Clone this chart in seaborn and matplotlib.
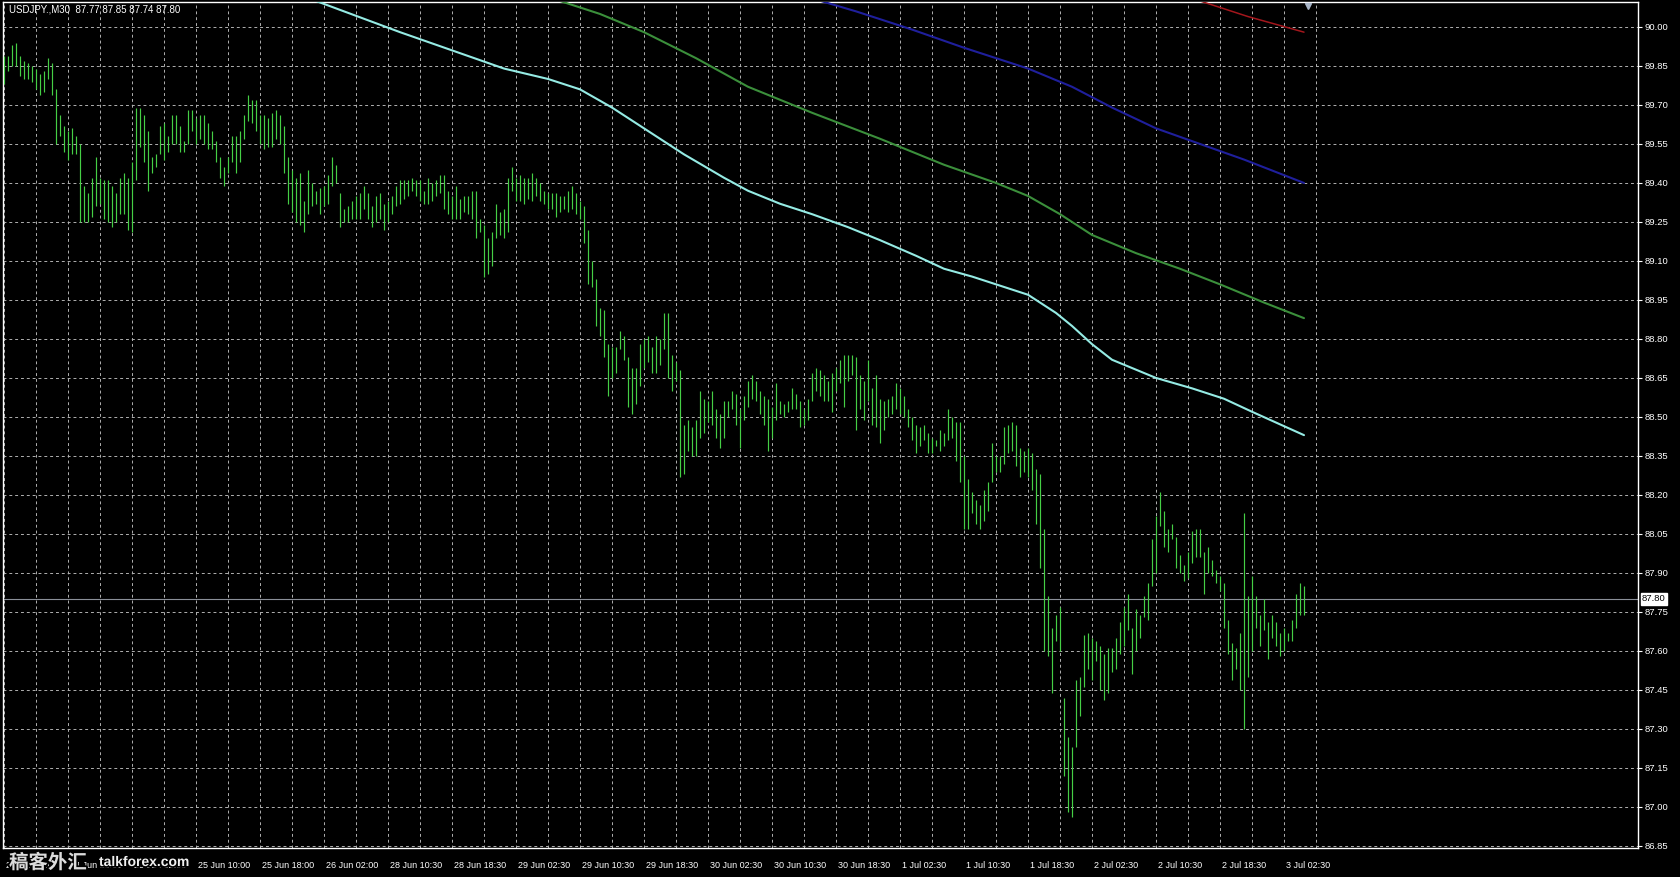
import matplotlib
matplotlib.use("Agg")
import numpy as np
import pandas as pd
import matplotlib.pyplot as plt
import matplotlib.patheffects as pe
import matplotlib.transforms as mtransforms
import seaborn as sns

# USDJPY M30 bars (bar 0 = 24 Jun 10:00)
highs = [
    89.89, 89.89, 89.93, 89.94, 89.89, 89.87, 89.86, 89.85, 89.84, 89.82,
    89.83, 89.88, 89.86, 89.76, 89.66, 89.62, 89.60, 89.61, 89.58, 89.55,
    89.39, 89.36, 89.42, 89.50, 89.42, 89.41, 89.41, 89.39, 89.36, 89.42,
    89.44, 89.42, 89.48, 89.69, 89.69, 89.66, 89.60, 89.50, 89.51, 89.62,
    89.63, 89.58, 89.66, 89.66, 89.62, 89.56, 89.68, 89.68, 89.65, 89.66,
    89.66, 89.63, 89.60, 89.56, 89.50, 89.46, 89.50, 89.58, 89.58, 89.60,
    89.66, 89.74, 89.72, 89.72, 89.66, 89.66, 89.65, 89.67, 89.68, 89.66,
    89.62, 89.50, 89.45, 89.42, 89.44, 89.33, 89.45, 89.40, 89.37, 89.38,
    89.39, 89.43, 89.50, 89.47, 89.36, 89.30, 89.31, 89.33, 89.35, 89.36,
    89.39, 89.36, 89.31, 89.35, 89.36, 89.32, 89.33, 89.35, 89.39, 89.41,
    89.41, 89.41, 89.42, 89.41, 89.41, 89.37, 89.42, 89.40, 89.41, 89.43,
    89.43, 89.37, 89.35, 89.39, 89.34, 89.35, 89.35, 89.37, 89.37, 89.26,
    89.24, 89.19, 89.21, 89.32, 89.29, 89.30, 89.42, 89.46, 89.42, 89.43,
    89.42, 89.42, 89.44, 89.42, 89.40, 89.37, 89.36, 89.36, 89.36, 89.35,
    89.35, 89.37, 89.39, 89.36, 89.33, 89.31, 89.22, 89.10, 89.03, 88.92,
    88.91, 88.78, 88.77, 88.77, 88.83, 88.81, 88.73, 88.69, 88.69, 88.78,
    88.80, 88.81, 88.77, 88.81, 88.80, 88.90, 88.90, 88.74, 88.71, 88.68,
    88.47, 88.49, 88.46, 88.49, 88.60, 88.57, 88.56, 88.60, 88.53, 88.51,
    88.56, 88.56, 88.60, 88.59, 88.53, 88.58, 88.64, 88.66, 88.64, 88.60,
    88.58, 88.57, 88.54, 88.63, 88.56, 88.55, 88.56, 88.61, 88.59, 88.56,
    88.53, 88.57, 88.67, 88.69, 88.68, 88.66, 88.64, 88.67, 88.69, 88.72,
    88.74, 88.74, 88.74, 88.73, 88.66, 88.64, 88.72, 88.61, 88.66, 88.57,
    88.56, 88.57, 88.58, 88.63, 88.61, 88.58, 88.53, 88.50, 88.47, 88.46,
    88.47, 88.44, 88.42, 88.41, 88.45, 88.44, 88.53, 88.50, 88.48, 88.48,
    88.35, 88.26, 88.21, 88.18, 88.16, 88.22, 88.25, 88.40, 88.35, 88.35,
    88.46, 88.47, 88.48, 88.47, 88.38, 88.37, 88.38, 88.36, 88.30, 88.28,
    88.07, 87.81, 87.69, 87.74, 87.77, 87.42, 87.27, 87.23, 87.49, 87.50,
    87.66, 87.67, 87.65, 87.64, 87.62, 87.59, 87.61, 87.61, 87.65, 87.71,
    87.77, 87.82, 87.69, 87.76, 87.74, 87.81, 87.86, 88.03, 88.12, 88.21,
    88.14, 88.07, 88.09, 88.04, 87.97, 87.93, 87.98, 88.06, 88.07, 88.07,
    87.98, 88.00, 87.95, 87.91, 87.89, 87.86, 87.72, 87.63, 87.61, 87.67,
    88.13, 87.81, 87.89, 87.81, 87.74, 87.80, 87.71, 87.74, 87.71, 87.67,
    87.69, 87.67, 87.72, 87.82, 87.86, 87.85,
]
lows = [
    89.78, 89.83, 89.85, 89.85, 89.81, 89.80, 89.80, 89.79, 89.76, 89.74,
    89.75, 89.80, 89.74, 89.55, 89.58, 89.52, 89.49, 89.51, 89.51, 89.25,
    89.25, 89.25, 89.27, 89.31, 89.32, 89.26, 89.25, 89.23, 89.25, 89.28,
    89.28, 89.22, 89.21, 89.41, 89.54, 89.48, 89.37, 89.44, 89.46, 89.51,
    89.49, 89.52, 89.55, 89.55, 89.52, 89.52, 89.55, 89.60, 89.55, 89.57,
    89.55, 89.53, 89.53, 89.48, 89.42, 89.39, 89.44, 89.48, 89.44, 89.48,
    89.57, 89.64, 89.63, 89.60, 89.55, 89.53, 89.54, 89.54, 89.57, 89.55,
    89.44, 89.32, 89.29, 89.25, 89.24, 89.21, 89.28, 89.31, 89.32, 89.28,
    89.31, 89.32, 89.39, 89.40, 89.23, 89.25, 89.25, 89.26, 89.26, 89.26,
    89.30, 89.26, 89.23, 89.25, 89.26, 89.22, 89.25, 89.28, 89.31, 89.32,
    89.34, 89.35, 89.37, 89.35, 89.33, 89.32, 89.32, 89.33, 89.35, 89.36,
    89.30, 89.28, 89.26, 89.26, 89.26, 89.29, 89.28, 89.26, 89.19, 89.21,
    89.04, 89.05, 89.08, 89.19, 89.20, 89.19, 89.21, 89.37, 89.33, 89.33,
    89.32, 89.34, 89.33, 89.35, 89.33, 89.32, 89.30, 89.30, 89.27, 89.29,
    89.30, 89.29, 89.30, 89.28, 89.26, 89.17, 89.01, 89.00, 88.85, 88.81,
    88.73, 88.58, 88.65, 88.67, 88.76, 88.72, 88.54, 88.51, 88.55, 88.62,
    88.69, 88.71, 88.67, 88.67, 88.70, 88.76, 88.65, 88.60, 88.64, 88.27,
    88.28, 88.37, 88.35, 88.35, 88.42, 88.44, 88.48, 88.47, 88.42, 88.38,
    88.42, 88.50, 88.53, 88.47, 88.38, 88.49, 88.54, 88.57, 88.56, 88.51,
    88.47, 88.37, 88.42, 88.49, 88.51, 88.50, 88.52, 88.53, 88.53, 88.46,
    88.47, 88.49, 88.56, 88.60, 88.58, 88.56, 88.56, 88.52, 88.60, 88.63,
    88.54, 88.64, 88.66, 88.45, 88.53, 88.49, 88.56, 88.47, 88.46, 88.40,
    88.45, 88.50, 88.51, 88.53, 88.51, 88.50, 88.46, 88.41, 88.36, 88.39,
    88.41, 88.36, 88.36, 88.39, 88.37, 88.39, 88.41, 88.42, 88.33, 88.25,
    88.07, 88.07, 88.13, 88.09, 88.07, 88.10, 88.14, 88.25, 88.29, 88.29,
    88.32, 88.36, 88.37, 88.31, 88.27, 88.29, 88.27, 88.22, 88.09, 87.92,
    87.60, 87.58, 87.44, 87.64, 87.60, 87.12, 86.98, 86.96, 87.23, 87.35,
    87.46, 87.53, 87.49, 87.56, 87.45, 87.41, 87.44, 87.52, 87.53, 87.59,
    87.62, 87.68, 87.51, 87.60, 87.65, 87.73, 87.72, 87.85, 87.90, 88.08,
    88.00, 87.98, 88.03, 87.92, 87.90, 87.87, 87.88, 87.94, 87.96, 87.96,
    87.82, 87.90, 87.89, 87.86, 87.83, 87.69, 87.59, 87.49, 87.53, 87.45,
    87.30, 87.50, 87.60, 87.69, 87.62, 87.68, 87.57, 87.65, 87.62, 87.58,
    87.60, 87.64, 87.64, 87.69, 87.74, 87.74,
]

# moving averages (bar index, price)
cyan_idx = [76, 78, 99, 112, 125, 136, 144, 152, 160, 170, 180, 186, 194, 202, 211, 219,
            228, 235, 242, 248, 256, 263, 267, 272, 277, 288, 297, 305, 312, 325]
cyan_val = [90.11, 90.10, 89.98, 89.91, 89.84, 89.80, 89.76, 89.69, 89.61, 89.51, 89.42, 89.37,
            89.32, 89.28, 89.23, 89.18, 89.12, 89.07, 89.04, 89.01, 88.97, 88.90, 88.85,
            88.78, 88.72, 88.65, 88.61, 88.57, 88.52, 88.43]
green_idx = [137, 149, 160, 173, 186, 202, 219, 235, 248, 256, 264, 272, 283, 294, 304, 315, 325]
green_val = [90.11, 90.05, 89.98, 89.88, 89.77, 89.67, 89.57, 89.47, 89.40, 89.35, 89.28, 89.20,
             89.13, 89.07, 89.01, 88.94, 88.88]
blue_idx = [202, 213, 227, 240, 256, 267, 277, 288, 299, 310, 325]
blue_val = [90.11, 90.06, 89.99, 89.92, 89.84, 89.77, 89.69, 89.61, 89.55, 89.49, 89.40]
red_idx = [296, 299, 311, 325]
red_val = [90.11, 90.10, 90.04, 89.98]

last_price = 87.80
header = "USDJPY.,M30  87.77 87.85 87.74 87.80"

ytick_labels = ["86.85", "87.00", "87.15", "87.30", "87.45", "87.60", "87.75", "87.90",
                "88.05", "88.20", "88.35", "88.50", "88.65", "88.80", "88.95", "89.10",
                "89.25", "89.40", "89.55", "89.70", "89.85", "90.00"]
xtick_labels = ["24 Jun 2010", "24 Jun 18:00", "25 Jun 02:00", "25 Jun 10:00", "25 Jun 18:00",
                "26 Jun 02:00", "28 Jun 10:30", "28 Jun 18:30", "29 Jun 02:30", "29 Jun 10:30",
                "29 Jun 18:30", "30 Jun 02:30", "30 Jun 10:30", "30 Jun 18:30", "1 Jul 02:30",
                "1 Jul 10:30", "1 Jul 18:30", "2 Jul 02:30", "2 Jul 10:30", "2 Jul 18:30",
                "3 Jul 02:30"]
bars_per_label = 16

sns.set_theme(style="dark", rc={
    "axes.facecolor": "black",
    "figure.facecolor": "black",
    "axes.edgecolor": "white",
    "xtick.color": "white",
    "ytick.color": "white",
})
plt.rcParams["font.family"] = ["Liberation Sans", "DejaVu Sans"]

fig = plt.figure(figsize=(16.8, 8.77), dpi=100)
ax = fig.add_axes([3 / 1680, 29 / 877, 1635 / 1680, 846 / 877])

bar_x = np.arange(len(highs))
bars = pd.DataFrame({"bar": bar_x, "high": highs, "low": lows})
ax.vlines(bars["bar"], bars["low"], bars["high"], color="#45cf45", lw=0.85, zorder=3)

ma_specs = [
    (cyan_idx, cyan_val, "#95ebe4", 1.5),
    (green_idx, green_val, "#3b8f3b", 1.5),
    (blue_idx, blue_val, "#1f1f9c", 1.5),
    (red_idx, red_val, "#a3161c", 1.1),
]
for idx, val, col, lw in ma_specs:
    ma = pd.DataFrame({"bar": idx, "price": val})
    sns.lineplot(data=ma, x="bar", y="price", ax=ax, color=col, lw=lw, zorder=4)

ax.axhline(last_price, color="#8a8f98", lw=0.8, zorder=2)

ax.set_xlim(-0.25, 408.5)
ax.set_ylim(86.842, 90.096)

yticks = [float(s) for s in ytick_labels]
ax.set_yticks(yticks)
ax.set_yticklabels(ytick_labels)
ax.yaxis.tick_right()
xticks = [i * bars_per_label for i in range(len(xtick_labels))]
ax.set_xticks(xticks)
ax.set_xticklabels(xtick_labels)
ax.set_xticks([t + bars_per_label // 2 for t in xticks], minor=True)
ax.set_xlabel("")
ax.set_ylabel("")

ax.grid(False)
ax.xaxis.grid(True, which="both", color="#b0b0b0", linestyle=(0, (3, 3)), lw=0.7)
ax.yaxis.grid(True, which="major", color="#b0b0b0", linestyle=(0, (3, 3)), lw=0.7)
ax.set_axisbelow(True)

ax.tick_params(axis="x", which="major", length=4, width=0.8, color="white", pad=5,
               labelsize=6.5, labelcolor="white", direction="out")
ax.tick_params(axis="x", which="minor", length=0)
ax.tick_params(axis="y", which="major", length=3, width=0.8, color="white", pad=2,
               labelsize=6.8, labelcolor="white", direction="out",
               right=True, left=False, labelright=True, labelleft=False)

offset = mtransforms.ScaledTranslation(2 / 100, 0, fig.dpi_scale_trans)
for lab in ax.get_xticklabels():
    lab.set_horizontalalignment("left")
    lab.set_transform(lab.get_transform() + offset)

for side in ["left", "right", "top", "bottom"]:
    ax.spines[side].set_color("white")
    ax.spines[side].set_linewidth(1.0)

# current price tag on the price scale
tag_tr = mtransforms.blended_transform_factory(ax.transAxes, ax.transData) + \
    mtransforms.ScaledTranslation(4 / 100, 0, fig.dpi_scale_trans)
ax.text(1.0, last_price, f"{last_price:.2f}", transform=tag_tr, ha="left", va="center",
        fontsize=6.8, color="black", clip_on=False, zorder=6,
        bbox=dict(boxstyle="square,pad=0.15", fc="white", ec="white"))

# chart shift marker
shift_tr = mtransforms.blended_transform_factory(ax.transData, ax.transAxes)
ax.plot([len(highs)], [0.995], marker="v", ms=5, color="#a9b6c8", transform=shift_tr,
        clip_on=False, zorder=6)

fig.text(9 / 1680, 1 - 9 / 877, header, color="white", fontsize=7, ha="left", va="center")

# watermark
stroke = [pe.withStroke(linewidth=2.5, foreground="black")]
fig.text(9 / 1680, 1 - 863 / 877, "稿客外汇", color="#dcdcdc", fontsize=14, fontweight="bold",
         family=["Noto Sans CJK SC", "DejaVu Sans"], ha="left", va="center",
         path_effects=stroke, zorder=10)
fig.text(99 / 1680, 1 - 862 / 877, "talkforex.com", color="#f0f0f0", fontsize=10,
         fontweight="bold", ha="left", va="center", path_effects=stroke, zorder=10)

fig.savefig("out.png", dpi=100, facecolor="black")
